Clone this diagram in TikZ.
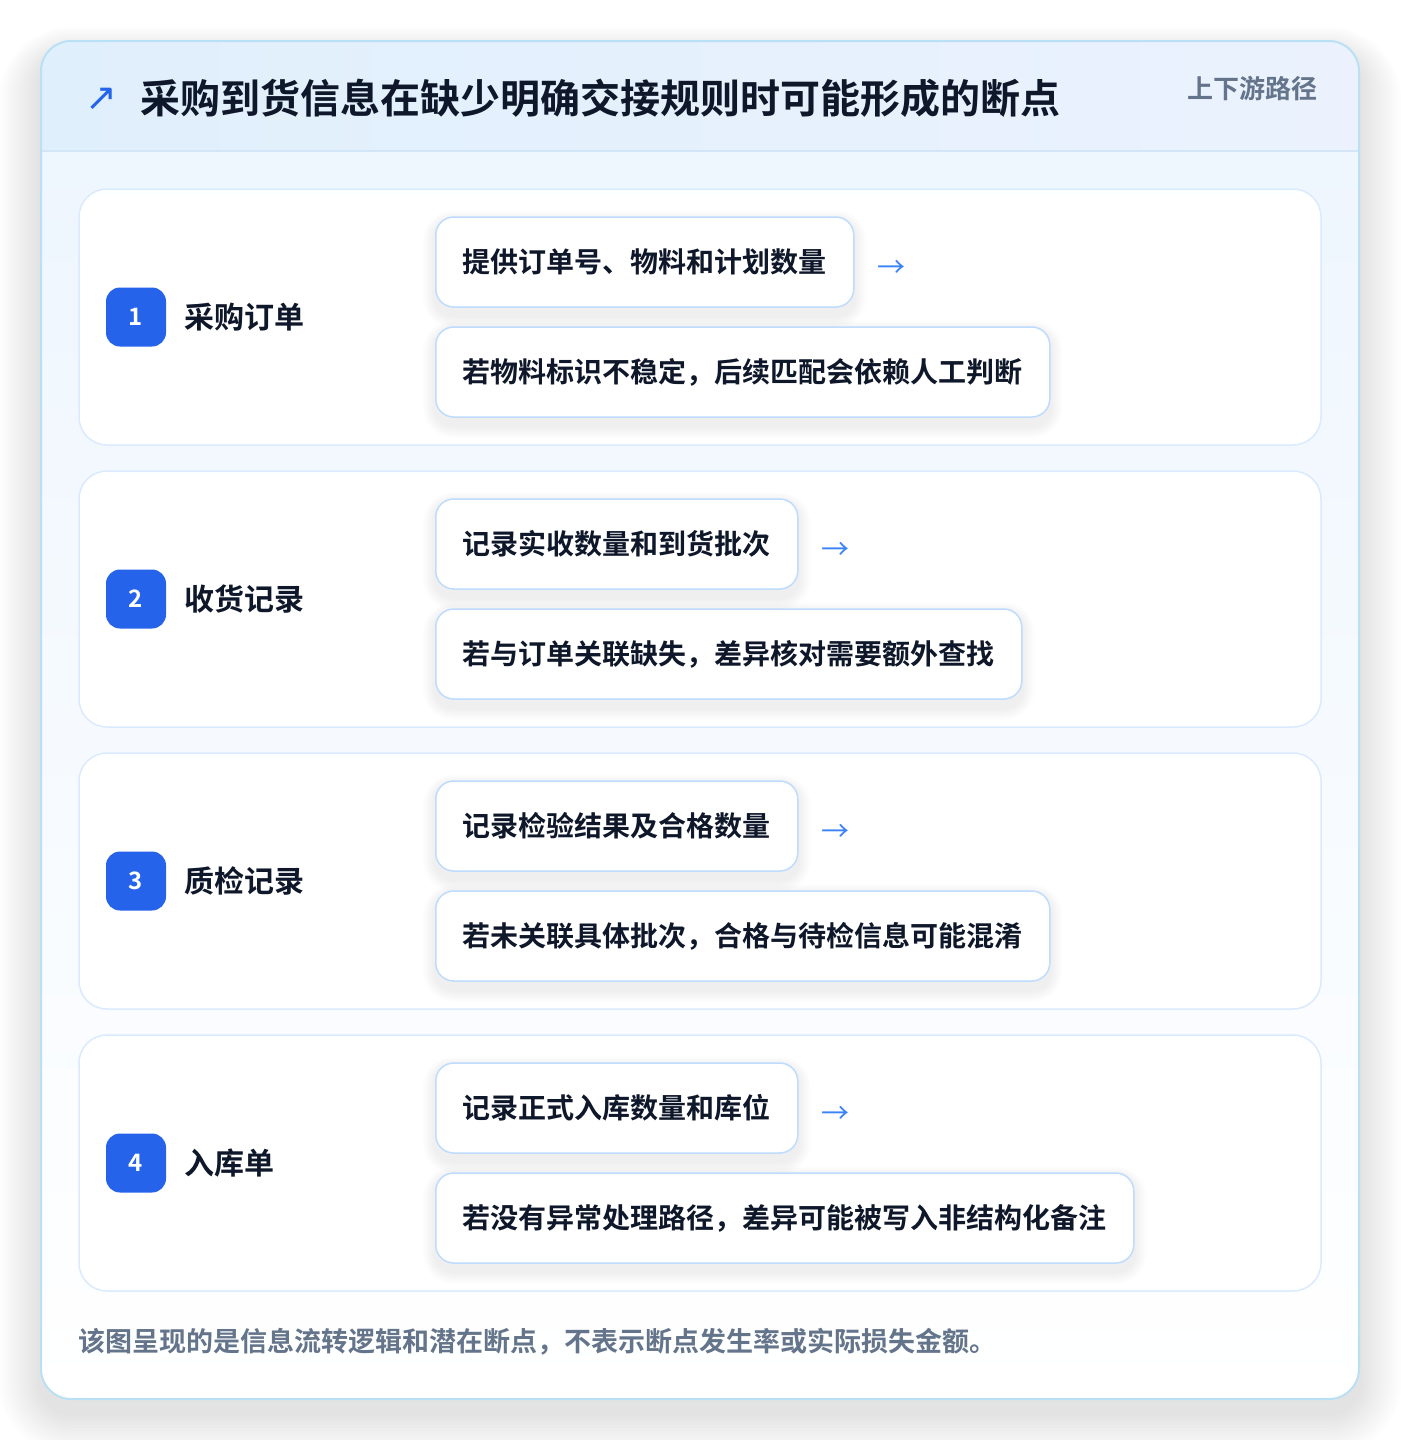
\documentclass[tikz,border=0pt]{standalone}
\usepackage{fontspec}
\setmainfont{Noto Sans CJK SC}[BoldFont={Noto Sans CJK SC Bold}]
\newfontfamily\symfont{DejaVu Sans}
\definecolor{cardborder}{HTML}{BAE0F5}
\definecolor{hdrl}{HTML}{E0EFFC}
\definecolor{hdrr}{HTML}{EBF2FE}
\definecolor{hdrline}{HTML}{D3E6F7}
\definecolor{bodytop}{HTML}{EEF6FE}
\definecolor{panelborder}{HTML}{DBEAFE}
\definecolor{boxborder}{HTML}{BFDBFE}
\definecolor{badgeblue}{HTML}{2563EB}
\definecolor{ink}{HTML}{0F172A}
\definecolor{muted}{HTML}{64748B}
\definecolor{arrowblue}{HTML}{3B82F6}
\pgfdeclarelayer{bg}
\pgfdeclarelayer{shadowlayer}
\pgfsetlayers{bg,shadowlayer,main}
\tikzset{
  panel/.style={draw=panelborder, line width=1.5pt, top color=white!97!bodytop, bottom color=white, rounded corners=28pt, minimum width=1242pt, minimum height=256pt, inner sep=0pt},
  badge/.style={fill=badgeblue, rounded corners=14pt, minimum width=60pt, minimum height=59pt, inner sep=0pt, text=white, font=\fontsize{24}{28}\selectfont\bfseries},
  rowlabel/.style={inner sep=0pt, text=ink, font=\fontsize{30}{36}\selectfont\bfseries},
  stepbox/.style={draw=boxborder, line width=1.5pt, fill=white, rounded corners=18pt, inner xsep=27pt, inner ysep=0pt, minimum height=90pt, text=ink, font=\fontsize{28}{34}\selectfont\bfseries},
  softshadow/.style={fill=black, opacity=0.007},
  arrowtxt/.style={inner sep=0pt, text=arrowblue, font=\fontsize{28}{34}\selectfont},
  titletxt/.style={inner sep=0pt, text=ink, font=\fontsize{40}{48}\selectfont\bfseries},
  mutedtxt/.style={inner sep=0pt, text=muted, font=\fontsize{26}{32}\selectfont\bfseries},
  foottxt/.style={inner sep=0pt, text=muted, font=\fontsize{27}{32}\selectfont\bfseries},
}
\begin{document}
\begin{tikzpicture}[x=1pt,y=-1pt]
\useasboundingbox (0,0) rectangle (1400,1440);
\begin{pgfonlayer}{bg}
\fill[white] (0,0) rectangle (1400,1440);
% card shadow
\foreach \k in {1,...,14}{
  \fill[softshadow, opacity=0.009, rounded corners={30+3*\k}] (41-3*\k,41+14-2*\k) rectangle (1359+3*\k,1399+14+3*\k);
}
\fill[white, rounded corners=30pt] (41,41) rectangle (1359,1399);
\begin{scope}
  \clip[rounded corners=30pt] (41,41) rectangle (1359,1399);
  \shade[top color=bodytop, bottom color=white] (41,151) rectangle (1359,1399);
  \shade[left color=hdrl, right color=hdrr] (41,41) rectangle (1359,151);
  \draw[hdrline, line width=1.5pt] (41,151) -- (1359,151);
\end{scope}
\node[draw=cardborder, line width=2pt, rounded corners=30pt, minimum width=1318pt, minimum height=1358pt, inner sep=0pt] (card) at (700,720) {};
\end{pgfonlayer}
% header
\node[inner sep=0pt, text=badgeblue, font=\symfont\fontsize{38}{40}\selectfont] (icon) at (101,99) {↗};
\node[titletxt, anchor=west] (title) at (140,98) {采购到货信息在缺少明确交接规则时可能形成的断点};
\node[mutedtxt, anchor=east] (sub) at (1318,89) {上下游路径};
% rows
\foreach \i/\lbl/\ta/\tb in {
  1/采购订单/提供订单号、物料和计划数量/若物料标识不稳定，后续匹配会依赖人工判断,
  2/收货记录/记录实收数量和到货批次/若与订单关联缺失，差异核对需要额外查找,
  3/质检记录/记录检验结果及合格数量/若未关联具体批次，合格与待检信息可能混淆,
  4/入库单/记录正式入库数量和库位/若没有异常处理路径，差异可能被写入非结构化备注}{
  \pgfmathsetmacro\cy{317+(\i-1)*282}
  \begin{pgfonlayer}{bg}
    \node[panel] (row\i) at (700,\cy) {};
  \end{pgfonlayer}
  \node[badge] (badge\i) at (136,\cy) {\i};
  \node[rowlabel, anchor=west] (lbl\i) at (184,\cy) {\lbl};
  \node[stepbox, anchor=west] (a\i) at (435,\cy-55) {\ta};
  \node[stepbox, anchor=west] (b\i) at (435,\cy+55) {\tb};
  \begin{pgfonlayer}{shadowlayer}
    \foreach \n in {a\i,b\i}{
      \foreach \k in {1,...,8}{
        \fill[softshadow, rounded corners={18+1.5*\k}] ([xshift={-1.5*\k}, yshift={-4+1.2*\k}]\n.north west) rectangle ([xshift={1.5*\k}, yshift={-8-1.5*\k}]\n.south east);
      }
    }
  \end{pgfonlayer}
  \node[arrowtxt, anchor=west] (arr\i) at ([xshift=23pt,yshift=-7pt]a\i.east) {→};
}
% footer
\node[foottxt, anchor=west] (foot) at (78,1342) {该图呈现的是信息流转逻辑和潜在断点，不表示断点发生率或实际损失金额。};
\end{tikzpicture}
\end{document}
